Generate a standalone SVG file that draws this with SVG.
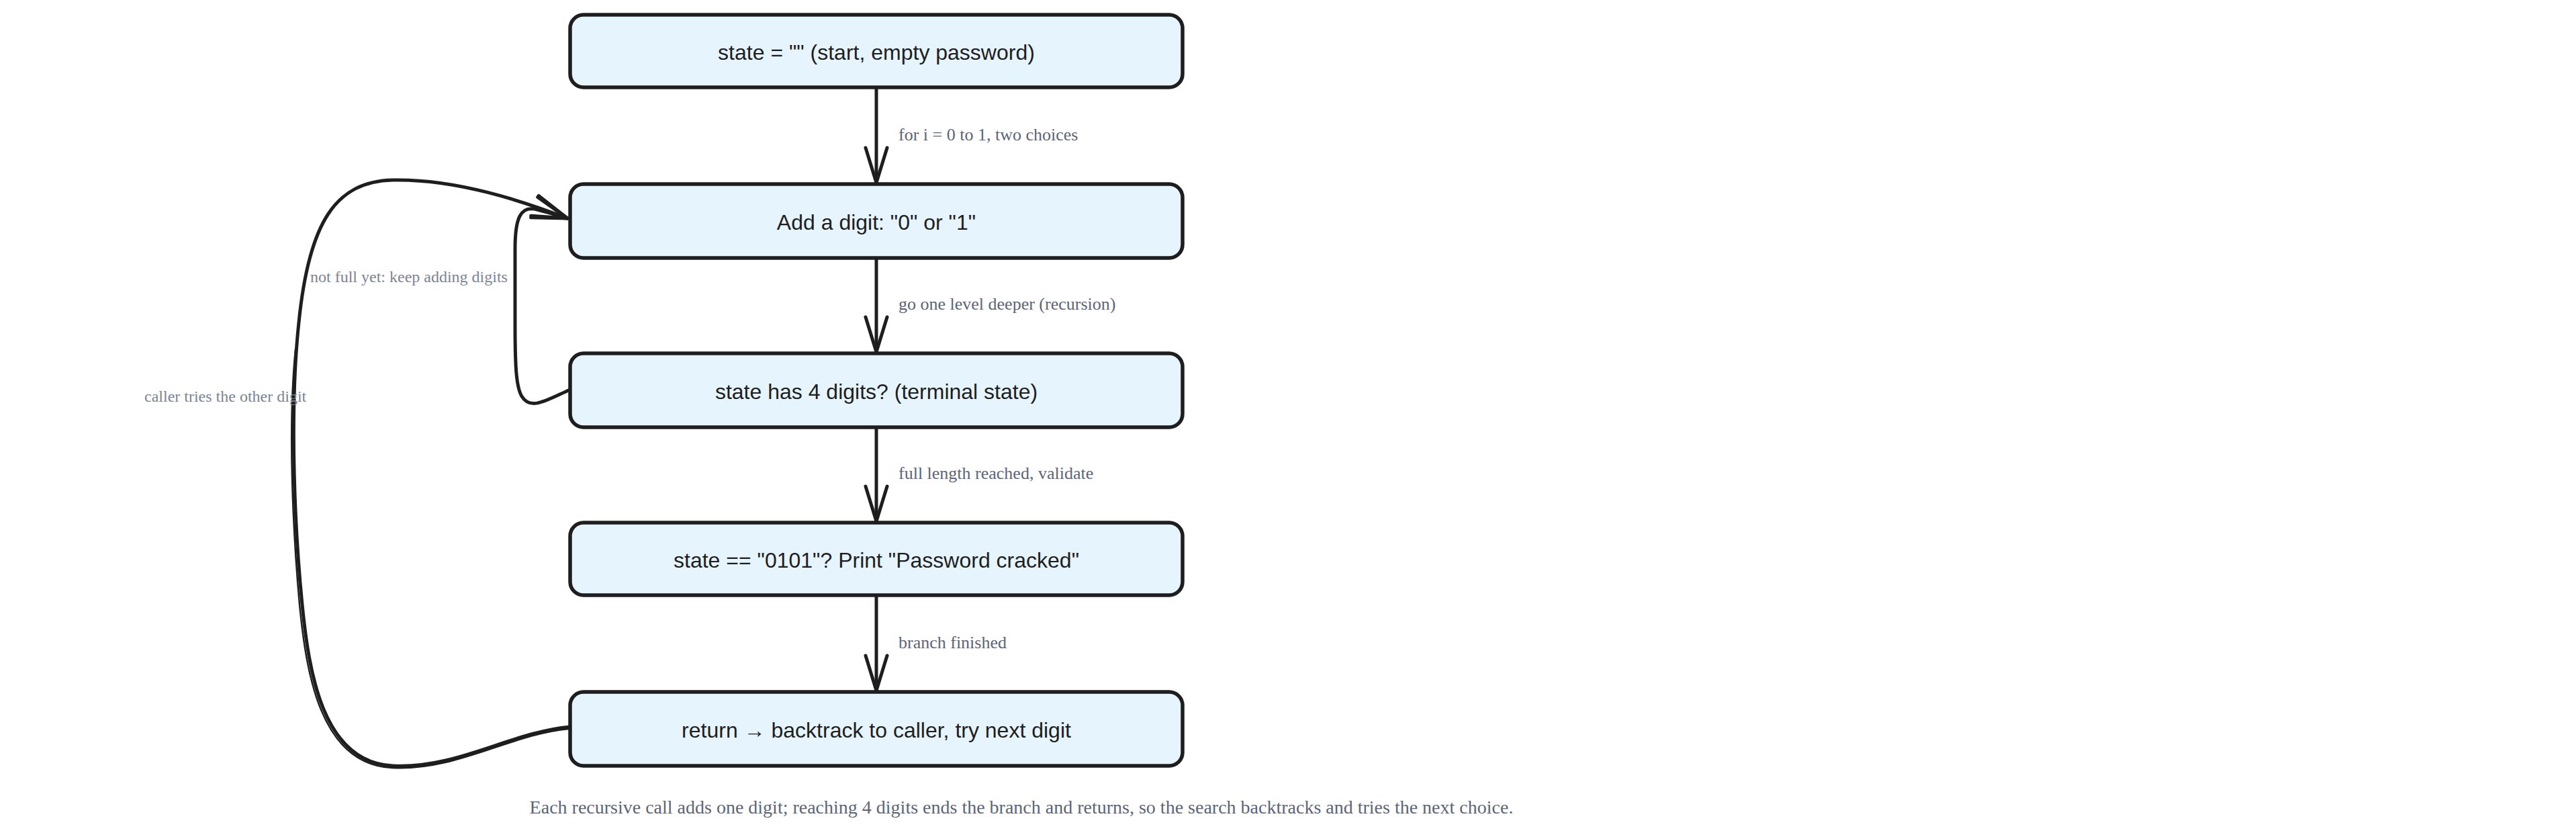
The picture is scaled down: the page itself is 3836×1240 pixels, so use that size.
<svg xmlns="http://www.w3.org/2000/svg" width="3836" height="1240" viewBox="0 0 3836 1240">
<style>
.box{fill:#e6f4fd;stroke:#1e1e1e;stroke-width:5.5}
.bt{font-family:"Liberation Sans",Arial,sans-serif;font-size:32px;fill:#1e1e1e;text-anchor:middle}
.edge{fill:none;stroke:#1e1e1e;stroke-width:5;stroke-linecap:round;stroke-linejoin:round}
.el{font-family:"Liberation Serif","Times New Roman",serif;font-size:26px;fill:#5b6577}
.ell{font-family:"Liberation Serif","Times New Roman",serif;font-size:24px;fill:#7b8494}
.foot{font-family:"Liberation Serif","Times New Roman",serif;font-size:28px;fill:#5b6577;text-anchor:middle}
</style>
<defs>
<marker id="arr" markerUnits="userSpaceOnUse" viewBox="0 0 60 40" markerWidth="60" markerHeight="40" refX="56" refY="20" orient="auto">
<path d="M4,4 L56,20 L4,36" fill="none" stroke="#1e1e1e" stroke-width="5" stroke-linecap="round" stroke-linejoin="round"/>
</marker>
</defs>
<rect width="3836" height="1240" fill="#ffffff"/>
<g id="connectors">
<path class="edge" d="M1305,130 L1305,272" marker-end="url(#arr)"/>
<path class="edge" d="M1305,384 L1305,524" marker-end="url(#arr)"/>
<path class="edge" d="M1305,636 L1305,776" marker-end="url(#arr)"/>
<path class="edge" d="M1305,886 L1305,1028" marker-end="url(#arr)"/>
<path class="edge" d="M849,580 C815,595 790,612 777,590 C768,575 767,540 767,480 L767,370 C767,325 775,305 800,312 C815,316 830,320 845,325" marker-end="url(#arr)"/>
<path class="edge" d="M849,1082 C760,1090 680,1145 585,1140 C480,1135 460,1000 450,900 C440,800 430,620 445,480 C460,330 500,270 585,268 C680,266 780,300 845,325" marker-end="url(#arr)"/>
<path class="edge" style="stroke-width:2.5" d="M847,1085 C760,1093 680,1148 584,1143 C476,1138 456,1000 446,900 C437,800 428,640 440,520"/>
<text class="el" x="1338" y="209">for i = 0 to 1, two choices</text>
<text class="el" x="1338" y="461">go one level deeper (recursion)</text>
<text class="el" x="1338" y="713">full length reached, validate</text>
<text class="el" x="1338" y="965">branch finished</text>
<text class="ell" x="462" y="420">not full yet: keep adding digits</text>
<text class="ell" x="215" y="598">caller tries the other digit</text>
</g>
<g id="n1"><rect class="box" x="849" y="22" width="912" height="108" rx="20"/><text class="bt" x="1305" y="89">state = "" (start, empty password)</text></g>
<g id="n2"><rect class="box" x="849" y="274" width="912" height="110" rx="20"/><text class="bt" x="1305" y="342">Add a digit: "0" or "1"</text></g>
<g id="n3"><rect class="box" x="849" y="526" width="912" height="110" rx="20"/><text class="bt" x="1305" y="594">state has 4 digits? (terminal state)</text></g>
<g id="n4"><rect class="box" x="849" y="778" width="912" height="108" rx="20"/><text class="bt" x="1305" y="845">state == "0101"? Print "Password cracked"</text></g>
<g id="n5"><rect class="box" x="849" y="1030" width="912" height="110" rx="20"/><text class="bt" x="1305" y="1098">return → backtrack to caller, try next digit</text></g>
<text class="foot" x="1521" y="1211">Each recursive call adds one digit; reaching 4 digits ends the branch and returns, so the search backtracks and tries the next choice.</text>
</svg>
